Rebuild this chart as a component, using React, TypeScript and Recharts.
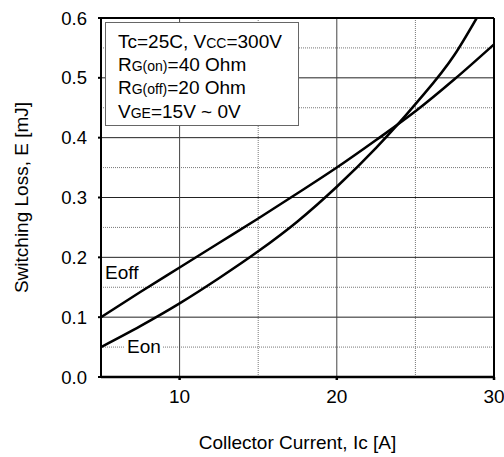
import { LineChart, Line, XAxis, YAxis, ReferenceLine, Label } from "recharts"

const eoffCurrent = [5, 7.5, 10, 12.5, 15, 17.5, 20, 22.5, 25, 27.5, 30]
const eoffLoss = [0.1, 0.142, 0.183, 0.224, 0.265, 0.307, 0.35, 0.396, 0.444, 0.498, 0.556]

const eonCurrent = [5, 7.5, 10, 12.5, 15, 17.5, 20, 22.5, 25, 27.5, 28.9]
const eonLoss = [0.05, 0.085, 0.123, 0.165, 0.21, 0.26, 0.318, 0.383, 0.456, 0.539, 0.6]

const xTicks = [10, 20, 30]
const yTicks = [0, 0.1, 0.2, 0.3, 0.4, 0.5, 0.6]
const xMajorGrid = [10, 20]
const xMinorGrid = [15, 25]
const yMajorGrid = [0.1, 0.2, 0.3, 0.4, 0.5]
const yMinorGrid = [0.05, 0.15, 0.25, 0.35, 0.45, 0.55]

const eoffData = eoffCurrent.map((ic, i) => ({ ic, e: eoffLoss[i] }))
const eonData = eonCurrent.map((ic, i) => ({ ic, e: eonLoss[i] }))

const font = "'Liberation Sans', Arial, sans-serif"
const small = { fontSize: 14 }

const App = () => {
  return (
    <div
      style={{
        position: "absolute",
        left: 0,
        top: 0,
        width: 504,
        height: 457,
        fontFamily: font,
        color: "#000",
      }}
    >
      <LineChart width={504} height={457} margin={{ top: 18, right: 10, left: 0, bottom: 0 }}>
        <XAxis
          type="number"
          dataKey="ic"
          domain={[5, 30]}
          ticks={xTicks}
          allowDataOverflow
          stroke="#000"
          strokeWidth={2.5}
          tickSize={3}
          tickMargin={10}
          height={80}
          tick={{ fill: "#000", fontSize: 19, fontFamily: font }}
        >
          <Label
            value="Collector Current, Ic [A]"
            position="insideBottom"
            offset={8}
            style={{ fill: "#000", fontSize: 19, fontFamily: font }}
          />
        </XAxis>
        <YAxis
          type="number"
          domain={[0, 0.6]}
          ticks={yTicks}
          allowDataOverflow
          stroke="#000"
          strokeWidth={2}
          tickSize={3}
          tickMargin={11}
          width={101}
          tickFormatter={(v: number) => v.toFixed(1)}
          tick={{ fill: "#000", fontSize: 18.5, fontFamily: font }}
        >
          <Label
            value="Switching Loss, E [mJ]"
            angle={-90}
            position="insideLeft"
            offset={21}
            style={{ fill: "#000", fontSize: 19, fontFamily: font, textAnchor: "middle" }}
          />
        </YAxis>
        {yMinorGrid.map((v) => (
          <ReferenceLine key={`ym${v}`} y={v} stroke="#777" strokeDasharray="1 1" />
        ))}
        {xMinorGrid.map((v) => (
          <ReferenceLine key={`xm${v}`} x={v} stroke="#777" strokeDasharray="1 1" />
        ))}
        {yMajorGrid.map((v) => (
          <ReferenceLine key={`y${v}`} y={v} stroke="#222" />
        ))}
        {xMajorGrid.map((v) => (
          <ReferenceLine key={`x${v}`} x={v} stroke="#444" />
        ))}
        <ReferenceLine y={0.6} stroke="#000" strokeWidth={2} />
        <ReferenceLine x={30} stroke="#000" strokeWidth={2} />
        <Line
          data={eoffData}
          dataKey="e"
          type="monotone"
          stroke="#000"
          strokeWidth={2.5}
          dot={false}
          isAnimationActive={false}
        />
        <Line
          data={eonData}
          dataKey="e"
          type="monotone"
          stroke="#000"
          strokeWidth={2.5}
          dot={false}
          isAnimationActive={false}
        />
      </LineChart>
      <div
        style={{
          position: "absolute",
          left: 105,
          top: 22,
          width: 194,
          height: 104,
          boxSizing: "border-box",
          border: "1px solid #666",
          background: "#fff",
          padding: "8px 0 0 12px",
          fontSize: 19,
          lineHeight: "22.2px",
          whiteSpace: "nowrap",
        }}
      >
        <div>
          Tc=25C, V<span style={small}>CC</span>=300V
        </div>
        <div>
          R<span style={small}>G(on)</span>=40 Ohm
        </div>
        <div>
          R<span style={small}>G(off)</span>=20 Ohm
        </div>
        <div>
          V<span style={small}>GE</span>=15V ~ 0V
        </div>
      </div>
      <div style={{ position: "absolute", left: 105, top: 263, fontSize: 19, lineHeight: "19px" }}>Eoff</div>
      <div
        style={{
          position: "absolute",
          left: 125,
          top: 337,
          fontSize: 19,
          lineHeight: "19px",
          background: "#fff",
          padding: "0 2px",
        }}
      >
        Eon
      </div>
    </div>
  )
}

export default App
